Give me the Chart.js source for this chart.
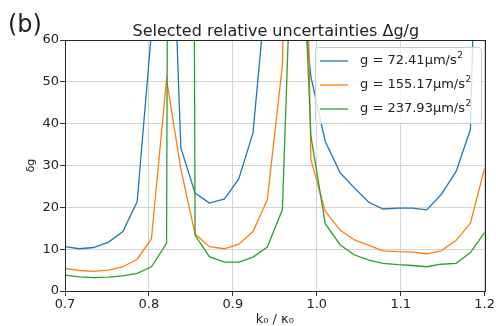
<!DOCTYPE html>
<html>
<head>
<meta charset="utf-8">
<script src="https://cdn.jsdelivr.net/npm/chart.js@4.4.0/dist/chart.umd.min.js"></script>
<style>
  html, body { margin: 0; padding: 0; background: #fff; }
  #wrap { width: 496px; height: 326px; }
</style>
</head>
<body>
<div id="wrap"><canvas id="chart" width="496" height="326"></canvas></div>
<script>
// k0 / kappa0 sample positions
const kRatio = [0.700, 0.717, 0.734, 0.752, 0.769, 0.786, 0.803, 0.821, 0.838, 0.855,
                0.872, 0.890, 0.907, 0.924, 0.941, 0.959, 0.976, 0.993, 1.010, 1.028,
                1.045, 1.062, 1.079, 1.097, 1.114, 1.131, 1.148, 1.166, 1.183, 1.200];

// delta g for each g value (points above 60 are off the plot, estimated)
const dgLow  = [10.6, 10.1, 10.4, 11.7, 14.2, 21.4, 62, 130, 34.2, 23.4,
                21.0, 22.0, 26.8, 37.8, 75, 200, 85, 51.2, 35.8, 28.2,
                24.6, 21.2, 19.6, 19.8, 19.8, 19.4, 23.0, 28.6, 38.6, 170];
const dgMid  = [5.4, 4.9, 4.7, 5.0, 5.8, 7.6, 12.5, 50.6, 29.2, 13.6,
                10.6, 10.1, 11.2, 14.2, 21.8, 54, 220, 31.4, 19.1, 14.5,
                12.2, 10.9, 9.6, 9.4, 9.3, 8.9, 9.6, 12.1, 16.2, 29.4];
const dgHigh = [3.8, 3.4, 3.2, 3.3, 3.6, 4.2, 5.8, 11.4, 1000, 13.3,
                8.2, 6.9, 6.9, 8.1, 10.5, 19.4, 120, 37.0, 16.1, 11.0,
                8.6, 7.4, 6.6, 6.3, 6.1, 5.8, 6.4, 6.6, 9.2, 14.0];

const seriesLabels = ['g = 72.41\u03bcm/s', 'g = 155.17\u03bcm/s', 'g = 237.93\u03bcm/s'];
const seriesColors = ['#1f77b4', '#ff7f0e', '#2ca02c'];

const xTicks = [0.7, 0.8, 0.9, 1.0, 1.1, 1.2];
const yTicks = [0, 10, 20, 30, 40, 50, 60];

const FONT = 'DejaVu Sans';

const toPoints = (ys) => ys.map((y, i) => ({ x: kRatio[i], y: y }));

// title, panel letter, frame and legend
const overlayPlugin = {
    id: 'overlay',
    afterDatasetsDraw(chart) {
        const { ctx, chartArea: a } = chart;
        ctx.save();

        // full frame like matplotlib spines
        ctx.strokeStyle = '#262626';
        ctx.lineWidth = 1;
        ctx.strokeRect(Math.round(a.left) + 0.5, Math.round(a.top) + 0.5,
                       Math.round(a.right - a.left), Math.round(a.bottom - a.top));

        // legend box
        const bx = 315.5, by = 47.5, bw = 166, bh = 76;
        ctx.beginPath();
        if (ctx.roundRect) ctx.roundRect(bx, by, bw, bh, 3);
        else ctx.rect(bx, by, bw, bh);
        ctx.fillStyle = 'rgba(255,255,255,0.8)';
        ctx.fill();
        ctx.strokeStyle = '#cccccc';
        ctx.stroke();

        seriesLabels.forEach((label, i) => {
            const y = 61 + i * 24;
            ctx.strokeStyle = seriesColors[i];
            ctx.lineWidth = 1.3;
            ctx.beginPath();
            ctx.moveTo(320, y);
            ctx.lineTo(348, y);
            ctx.stroke();

            ctx.fillStyle = '#222';
            ctx.textBaseline = 'middle';
            ctx.textAlign = 'left';
            ctx.font = '13px "' + FONT + '"';
            ctx.fillText(label, 360, y);
            const w = ctx.measureText(label).width;
            ctx.font = '9px "' + FONT + '"';
            ctx.fillText('2', 360 + w + 0.5, y - 5);
        });
        ctx.restore();
    },
    afterDraw(chart) {
        const { ctx, chartArea: a } = chart;
        ctx.save();
        ctx.fillStyle = '#222';
        ctx.textBaseline = 'alphabetic';
        ctx.textAlign = 'center';
        ctx.font = '16px "' + FONT + '"';
        ctx.fillText('Selected relative uncertainties \u0394g/g', (a.left + a.right) / 2 + 1, 35.5);
        ctx.textAlign = 'left';
        ctx.font = '24px "' + FONT + '"';
        ctx.fillText('(b)', 8, 32);
        ctx.restore();
    }
};

new Chart(document.getElementById('chart'), {
    type: 'line',
    data: {
        datasets: [
            { label: seriesLabels[0], data: toPoints(dgLow),  borderColor: seriesColors[0], order: 2 },
            { label: seriesLabels[1], data: toPoints(dgMid),  borderColor: seriesColors[1], order: 1 },
            { label: seriesLabels[2], data: toPoints(dgHigh), borderColor: seriesColors[2], order: 0 }
        ]
    },
    options: {
        responsive: false,
        animation: false,
        events: [],
        devicePixelRatio: 1,
        layout: { padding: { top: 40, right: 9.3, left: 0, bottom: 0 } },
        elements: {
            line: { borderWidth: 1.3, tension: 0, fill: false },
            point: { radius: 0 }
        },
        plugins: {
            legend: { display: false },
            tooltip: { enabled: false },
            title: { display: false }
        },
        scales: {
            x: {
                type: 'linear',
                min: xTicks[0],
                max: xTicks[xTicks.length - 1],
                afterBuildTicks: (s) => { s.ticks = xTicks.map(v => ({ value: v })); },
                ticks: {
                    callback: v => v.toFixed(1),
                    font: { family: FONT, size: 13 },
                    color: '#222',
                    padding: 1,
                    maxRotation: 0
                },
                grid: { color: '#d5d5d5', tickColor: '#333', tickLength: 5, lineWidth: 1 },
                border: { display: false },
                title: {
                    display: true,
                    text: 'k\u2080 / \u03ba\u2080',
                    font: { family: FONT, size: 13 },
                    color: '#222',
                    padding: { top: 0, bottom: -1.5 }
                },
                afterFit: (s) => { s.height = 35; }
            },
            y: {
                min: yTicks[0],
                max: yTicks[yTicks.length - 1],
                afterBuildTicks: (s) => { s.ticks = yTicks.map(v => ({ value: v })); },
                ticks: {
                    font: { family: FONT, size: 13 },
                    color: '#222',
                    padding: 1
                },
                grid: { color: '#d5d5d5', tickColor: '#333', tickLength: 5, lineWidth: 1 },
                border: { display: false },
                title: {
                    display: true,
                    text: '\u03b4g',
                    font: { family: FONT, size: 11 },
                    color: '#222',
                    padding: { top: 25, bottom: 0 }
                },
                afterFit: (s) => { s.width = 65; }
            }
        }
    },
    plugins: [overlayPlugin]
});
</script>
</body>
</html>
